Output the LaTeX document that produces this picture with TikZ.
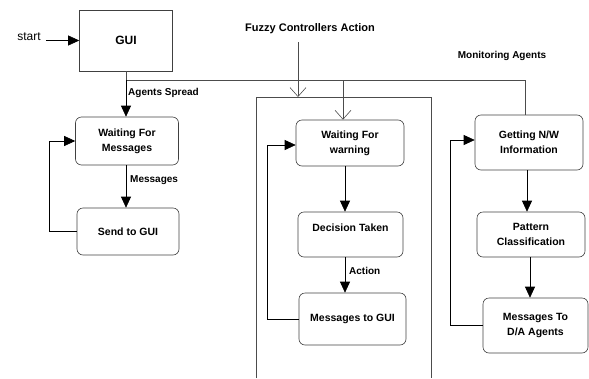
\documentclass[tikz,border=0pt]{standalone}
\usepackage{fontspec}
\setmainfont{Liberation Sans}
\usetikzlibrary{arrows.meta}
\begin{document}
\begin{tikzpicture}[x=1pt,y=-1pt,
  box/.style={draw=black!75, line width=0.6pt, rounded corners=6pt, align=center,
    inner sep=0pt, font=\fontsize{10.5}{15}\selectfont\bfseries},
  lbl/.style={font=\fontsize{10}{12}\selectfont\bfseries, inner sep=0pt, anchor=west},
  conn/.style={draw=black, line width=0.6pt},
  fill/.style={conn, -{Triangle[length=11pt,width=10pt]}},
  open/.style={conn, draw=black!70, -{Straight Barb[length=9pt,width=16pt,line width=0.6pt]}},
  plain/.style={conn, draw=black!70}]
\useasboundingbox (0,0) rectangle (589,378);

% nodes
\node[draw=black!75, line width=0.6pt, minimum width=93pt, minimum height=61pt, inner sep=0pt,
  font=\fontsize{12}{14}\selectfont\bfseries] (gui) at (126,40.5) {GUI};
\node[font=\fontsize{12}{14}\selectfont, inner sep=0pt] (start) at (29,37) {start};
\node[font=\fontsize{11}{13}\selectfont\bfseries, inner sep=0pt] (fuzzy) at (310,29) {Fuzzy Controllers Action};
\node[font=\fontsize{10}{12}\selectfont\bfseries, inner sep=0pt] (mon) at (502,56) {Monitoring Agents};

\node[box, minimum width=103pt, minimum height=48pt] (wfm) at (127,141) {Waiting For\\Messages};
\node[box, minimum width=102pt, minimum height=47pt] (sgui) at (128,231.5) {Send to GUI};

\node[box, minimum width=108pt, minimum height=46pt] (wfw) at (350,143) {Waiting For\\warning};
\node[box, minimum width=105pt, minimum height=45pt, text height=7pt, text depth=13pt] (dt) at (350.5,234.5) {Decision Taken};
\node[box, minimum width=107pt, minimum height=52pt] (mgui) at (352.5,319) {Messages to GUI};

\node[box, minimum width=108pt, minimum height=55pt] (gnw) at (529,142.5) {Getting N/W\\Information};
\node[box, minimum width=108pt, minimum height=45pt] (pc) at (531,234.5) {Pattern\\Classification};
\node[box, minimum width=105pt, minimum height=55pt] (mda) at (535.5,325.5) {Messages To\\D/A Agents};

% coordinates
\coordinate (bus) at (126,80);
\coordinate (busr) at (525,80);
\coordinate (bus2) at (343,80);
\coordinate (ftop) at (298,42);
\coordinate (ftip) at (298,97);
\coordinate (mx) at (345,0);

% big rectangle (open at bottom)
\draw[plain] (256,378) -- (256,97) -- (431,97) -- (431,378);

% start arrow
\draw[fill] (start.east |- gui.west) ++(5,0) -- (gui.west);

% bus
\draw[plain] (gui.south -| bus) -- (bus) -- (busr) -- (gnw.north -| busr);
\draw[fill] (bus) -- (wfm.north -| bus);
\node[lbl] at (128,93) {Agents Spread};
\draw[open] (bus2) -- (wfw.north -| bus2);
\draw[open] (ftop) -- (ftip);

% left column
\draw[fill] (wfm.south -| bus) -- (sgui.north -| bus);
\node[lbl] at (130,180) {Messages};
\draw[fill] (sgui.west) -- ++(-27,0) |- (wfm.west);

% middle column
\draw[fill] (wfw.south -| mx) -- (dt.north -| mx);
\draw[fill] (dt.south -| mx) -- (mgui.north -| mx);
\node[lbl] at (349,271) {Action};
\draw[fill] (mgui.west) -- ++(-31,0) |- ([yshift=-2pt]wfw.west);

% right column
\draw[fill] ([xshift=-2pt]gnw.south) -- ([xshift=-2pt]gnw.south |- pc.north);
\draw[fill] ([xshift=-1pt]pc.south) -- ([xshift=-1pt]pc.south |- mda.north);
\draw[fill] (mda.west) -- ++(-32,0) |- ([yshift=2.5pt]gnw.west);
\end{tikzpicture}
\end{document}
